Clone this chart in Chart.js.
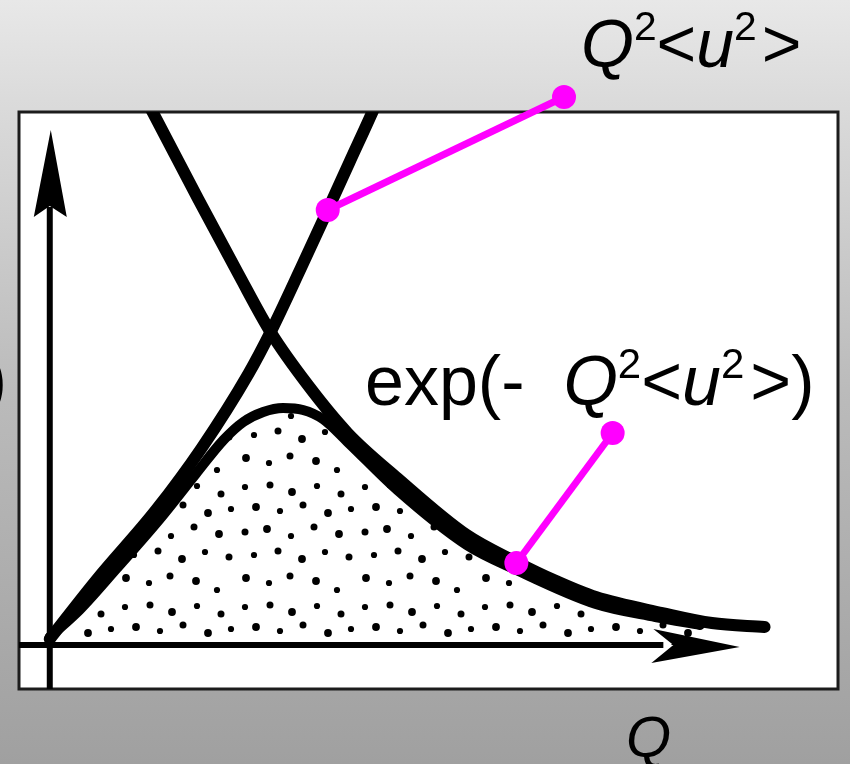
<!DOCTYPE html>
<html>
<head>
<meta charset="utf-8">
<script src="https://cdn.jsdelivr.net/npm/chart.js@4.4.1/dist/chart.umd.min.js"></script>
<style>
  html, body { margin: 0; padding: 0; overflow: hidden; background: #fff; }
  canvas { display: block; }
</style>
</head>
<body>
<canvas id="chart" width="850" height="764"></canvas>
<script>
// Schematic curves, sampled as [Q, value] in arbitrary units
const qSquared = [[0.00,0.06],[0.47,0.65],[1.07,1.35],[1.53,1.97],[2.00,2.71],[2.23,3.14],
  [2.53,3.77],[2.80,4.35],[3.02,4.83],[3.25,5.33],[3.32,5.49]];
const expDecay = [[0.95,5.49],[1.02,5.36],[1.50,4.45],[1.90,3.71],[2.23,3.12],[2.60,2.60],
  [3.00,2.12],[3.50,1.67],[4.20,1.10],[4.70,0.83],[5.10,0.64],[5.50,0.48],[6.17,0.32],
  [6.67,0.22],[7.20,0.18]];
const product = [[0.00,0.08],[0.30,0.35],[0.67,0.76],[1.10,1.25],[1.47,1.71],[1.75,2.05],
  [1.95,2.23],[2.15,2.33],[2.35,2.37],[2.55,2.35],[2.75,2.26],[3.00,2.03],[3.50,1.55],
  [4.20,1.00],[4.70,0.75],[5.50,0.41],[6.10,0.28],[6.55,0.20]];
// Label leader lines: [curve anchor, label end]
const leaderQ2 = [[2.80,4.35],[5.18,5.48]];
const leaderExp = [[4.70,0.82],[5.67,2.12]];
// Axis extents (data units)
const xRange = [-0.31, 7.94];
const yRange = [-0.44, 5.33];
const xArrowTip = 6.95, xArrowBase = 6.08;
const yArrowTip = 5.15, yArrowBase = 4.28;

const FONT = '"Liberation Sans", Arial, Helvetica, sans-serif';
const MAGENTA = '#ff00ff';
const LEADER_DOT = 12;

const toXY = arr => arr.map(([x, y]) => ({ x, y }));

// Stipple texture for the area under the product curve
function makeStipple() {
  const tile = document.createElement('canvas');
  tile.width = 120; tile.height = 120;
  const t = tile.getContext('2d');
  t.fillStyle = '#000';
  const dots = [
    [5,7],[30,5],[52,12],[77,6],[101,14],
    [16,27],[40,31],[63,25],[88,33],[111,29],
    [5,52],[27,49],[51,56],[74,47],[99,54],
    [14,75],[38,71],[62,79],[85,72],[109,77],
    [6,98],[29,103],[50,96],[76,101],[97,110]
  ];
  dots.forEach(([x, y], i) => {
    const r = 3.1 + (i % 3) * 0.4;
    t.beginPath(); t.arc(x, y, r, 0, Math.PI * 2); t.fill();
  });
  return t.createPattern(tile, 'repeat');
}

function drawRich(ctx, parts, x, y, size) {
  ctx.textBaseline = 'alphabetic';
  ctx.textAlign = 'left';
  for (const p of parts) {
    const fs = p.sup ? size * 0.6 : size;
    ctx.font = (p.it ? 'italic ' : '') + fs + 'px ' + FONT;
    x += (p.dx || 0);
    ctx.fillText(p.t, x, y - (p.sup ? size * 0.39 : 0));
    x += ctx.measureText(p.t).width;
  }
}

const backdrop = {
  id: 'backdrop',
  beforeDraw(chart) {
    const { ctx, chartArea: a, width, height } = chart;
    ctx.save();
    const g = ctx.createLinearGradient(0, 0, 0, height);
    g.addColorStop(0, '#e8e8e8');
    g.addColorStop(0.13, '#dbdbdb');
    g.addColorStop(0.51, '#bbbbbb');
    g.addColorStop(1, '#a0a0a0');
    ctx.fillStyle = g;
    ctx.fillRect(0, 0, width, height);
    ctx.fillStyle = '#ffffff';
    ctx.fillRect(a.left, a.top, a.right - a.left, a.bottom - a.top);
    ctx.lineWidth = 3;
    ctx.strokeStyle = '#1c1c1c';
    ctx.strokeRect(a.left, a.top, a.right - a.left, a.bottom - a.top);
    ctx.restore();
  },
  beforeDatasetsDraw(chart) {
    const { ctx, chartArea: a, scales: { x, y } } = chart;
    const ox = x.getPixelForValue(0), oy = y.getPixelForValue(0);
    ctx.save();
    ctx.strokeStyle = '#000';
    ctx.fillStyle = '#000';
    ctx.lineWidth = 6;
    // horizontal axis
    ctx.beginPath();
    ctx.moveTo(a.left, oy);
    ctx.lineTo(x.getPixelForValue(xArrowBase) + 10, oy);
    ctx.stroke();
    const tx = x.getPixelForValue(xArrowTip), bx = x.getPixelForValue(xArrowBase);
    ctx.beginPath();
    ctx.moveTo(tx, oy + 2);
    ctx.lineTo(bx, oy - 16);
    ctx.lineTo(bx + 20, oy);
    ctx.lineTo(bx - 2, oy + 18);
    ctx.closePath();
    ctx.fill();
    // vertical axis
    ctx.beginPath();
    ctx.moveTo(ox, a.bottom);
    ctx.lineTo(ox, y.getPixelForValue(yArrowBase) - 10);
    ctx.stroke();
    const ty = y.getPixelForValue(yArrowTip), by = y.getPixelForValue(yArrowBase);
    ctx.beginPath();
    ctx.moveTo(ox + 1, ty);
    ctx.lineTo(ox + 17, by);
    ctx.lineTo(ox, by - 11);
    ctx.lineTo(ox - 16, by);
    ctx.closePath();
    ctx.fill();
    ctx.restore();
  },
  afterDatasetsDraw(chart) {
    // leader end dots that sit outside the plot frame
    const { ctx, chartArea: a, scales: { x, y } } = chart;
    ctx.save();
    ctx.fillStyle = MAGENTA;
    for (const [qx, qy] of [...leaderQ2, ...leaderExp]) {
      const px = x.getPixelForValue(qx), py = y.getPixelForValue(qy);
      if (px < a.left || px > a.right || py < a.top || py > a.bottom) {
        ctx.beginPath(); ctx.arc(px, py, LEADER_DOT, 0, Math.PI * 2); ctx.fill();
      }
    }
    ctx.restore();
  },
  afterDraw(chart) {
    const { ctx } = chart;
    ctx.save();
    ctx.fillStyle = '#000';
    drawRich(ctx, [
      { t: 'Q', it: 1 }, { t: '2', sup: 1 }, { t: '<' }, { t: 'u', it: 1 },
      { t: '2', sup: 1 }, { t: '>', dx: 5 }
    ], 581, 67, 68);
    drawRich(ctx, [
      { t: 'exp(-  ' }, { t: 'Q', it: 1 }, { t: '2', sup: 1 }, { t: '<' },
      { t: 'u', it: 1 }, { t: '2', sup: 1 }, { t: '>)', dx: 6 }
    ], 365, 405, 70);
    ctx.font = 'italic 58px ' + FONT;
    ctx.textAlign = 'left';
    ctx.fillText('Q', 626, 757);
    ctx.font = '70px ' + FONT;
    ctx.textAlign = 'right';
    ctx.fillText(')', 7, 403);
    ctx.restore();
  }
};

const curve = (data, width, order, extra) => Object.assign({
  data: toXY(data), showLine: true, borderColor: '#000', borderWidth: width,
  pointRadius: 0, cubicInterpolationMode: 'monotone', borderCapStyle: 'round',
  borderJoinStyle: 'round', fill: false, order
}, extra || {});

const leader = (data) => ({
  data: toXY(data), showLine: true, borderColor: MAGENTA, borderWidth: 7,
  pointRadius: LEADER_DOT, pointBackgroundColor: MAGENTA, pointBorderWidth: 0,
  tension: 0, clip: false, fill: false, order: 0
});

new Chart(document.getElementById('chart'), {
  type: 'scatter',
  data: {
    datasets: [
      leader(leaderQ2),
      leader(leaderExp),
      curve(qSquared, 12, 1),
      curve(expDecay, 12, 2),
      curve(product, 10, 3, { fill: 'origin', backgroundColor: makeStipple() })
    ]
  },
  options: {
    responsive: false,
    animation: false,
    devicePixelRatio: 1,
    layout: { padding: { left: 19, right: 6, top: 112, bottom: 75 } },
    scales: {
      x: { type: 'linear', min: xRange[0], max: xRange[1], display: false },
      y: { type: 'linear', min: yRange[0], max: yRange[1], display: false }
    },
    plugins: { legend: { display: false }, tooltip: { enabled: false } },
    events: []
  },
  plugins: [backdrop]
});
</script>
</body>
</html>
